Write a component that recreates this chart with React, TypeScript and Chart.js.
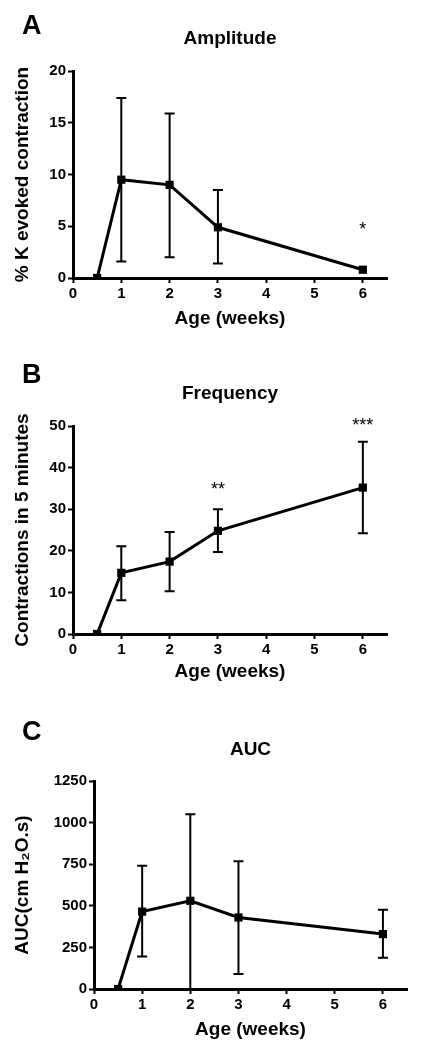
import React, { useEffect, useRef } from 'react';
import { Chart, registerables } from 'chart.js';

Chart.register(...registerables);

// ---------- data ----------
const ages = [0.5, 1, 2, 3, 6];
const xTickValues = [0, 1, 2, 3, 4, 5, 6];

const amplitudeMean = [0, 9.5, 9.0, 4.9, 0.8];
const amplitudeLow = [0, 1.6, 2.0, 1.4, 0.8];
const amplitudeHigh = [0, 17.4, 15.9, 8.5, 0.8];
const amplitudeStars = [{ x: 6, y: 4.6, text: '*' }];

const frequencyMean = [0, 14.7, 17.4, 24.8, 35.2];
const frequencyLow = [0, 8.1, 10.3, 19.7, 24.2];
const frequencyHigh = [0, 21.1, 24.5, 30.0, 46.2];
const frequencyStars = [
  { x: 3, y: 34.6, text: '**' },
  { x: 6, y: 50, text: '***' },
];

const aucMean = [0, 465, 530, 430, 330];
const aucLow = [0, 195, 0, 90, 188];
const aucHigh = [0, 740, 1050, 768, 477];
const aucStars: { x: number; y: number; text: string }[] = [];

const FONT = '"Liberation Sans", Arial, "DejaVu Sans", sans-serif';

type Panel = {
  letter: string;
  title: string;
  yTitle: string;
  yMax: number;
  yStep: number;
  mean: number[];
  low: number[];
  high: number[];
  stars: { x: number; y: number; text: string }[];
  // layout
  top: number;
  height: number;
  left: number;
  plotTop: number;
  plotBottom: number;
  plotRight: number;
  titleY: number;
  letterY: number;
  xTitlePad: number;
};

const panels: Panel[] = [
  {
    letter: 'A', title: 'Amplitude', yTitle: '% K evoked contraction', yMax: 20, yStep: 5,
    mean: amplitudeMean, low: amplitudeLow, high: amplitudeHigh, stars: amplitudeStars,
    top: 0, height: 340, left: 73, plotTop: 71, plotBottom: 278, plotRight: 387,
    titleY: 39, letterY: 27, xTitlePad: 10,
  },
  {
    letter: 'B', title: 'Frequency', yTitle: 'Contractions in 5 minutes', yMax: 50, yStep: 10,
    mean: frequencyMean, low: frequencyLow, high: frequencyHigh, stars: frequencyStars,
    top: 340, height: 350, left: 73, plotTop: 86, plotBottom: 294, plotRight: 387,
    titleY: 54, letterY: 36, xTitlePad: 7,
  },
  {
    letter: 'C', title: 'AUC', yTitle: 'AUC(cm H\u2082O.s)', yMax: 1250, yStep: 250,
    mean: aucMean, low: aucLow, high: aucHigh, stars: aucStars,
    top: 690, height: 360, left: 94, plotTop: 91, plotBottom: 299, plotRight: 407,
    titleY: 60, letterY: 43, xTitlePad: 9,
  },
];

const decorPlugin = {
  id: 'decor',
  beforeDatasetsDraw(chart: any, _args: any, opts: any) {
    const { ctx, scales } = chart;
    const x = scales.x, y = scales.y;
    ctx.save();
    ctx.strokeStyle = '#000';
    ctx.lineWidth = 2;
    ctx.lineCap = 'butt';
    opts.low.forEach((lo: number, i: number) => {
      const hi = opts.high[i];
      if (hi === lo) return;
      const px = x.getPixelForValue(opts.xs[i]);
      const pl = y.getPixelForValue(lo);
      const ph = y.getPixelForValue(hi);
      ctx.beginPath();
      ctx.moveTo(px, pl);
      ctx.lineTo(px, ph);
      ctx.moveTo(px - 5, pl);
      ctx.lineTo(px + 5, pl);
      ctx.moveTo(px - 5, ph);
      ctx.lineTo(px + 5, ph);
      ctx.stroke();
    });
    ctx.restore();
  },
  afterDraw(chart: any, _args: any, opts: any) {
    const { ctx, chartArea, scales } = chart;
    ctx.save();
    ctx.fillStyle = '#000';
    // panel letter
    ctx.font = `bold 27px ${FONT}`;
    ctx.textAlign = 'left';
    ctx.textBaseline = 'middle';
    ctx.fillText(opts.letter, 22, opts.letterY);
    // title
    ctx.font = `bold 19px ${FONT}`;
    ctx.textAlign = 'center';
    ctx.fillText(opts.title, (chartArea.left + chartArea.right) / 2, opts.titleY);
    // significance stars
    ctx.font = `18px ${FONT}`;
    opts.stars.forEach((s: any) => {
      ctx.fillText(s.text, scales.x.getPixelForValue(s.x), scales.y.getPixelForValue(s.y));
    });
    ctx.restore();
  },
};

function PanelChart({ p }: { p: Panel }) {
  const ref = useRef<HTMLCanvasElement>(null);
  useEffect(() => {
    if (!ref.current) return;
    const chart = new Chart(ref.current, {
      type: 'scatter',
      data: {
        datasets: [
          {
            data: ages.map((a, i) => ({ x: a, y: p.mean[i] })),
            showLine: true,
            borderColor: '#000',
            backgroundColor: '#000',
            borderWidth: 3,
            pointStyle: 'rect',
            pointRadius: 5.8,
            pointBorderWidth: 0,
            pointBackgroundColor: '#000',
            tension: 0,
          },
        ],
      },
      options: {
        responsive: false,
        animation: false,
        events: [],
        layout: {
          padding: { left: 0, top: p.plotTop, right: 421 - p.plotRight, bottom: 0 },
        },
        plugins: {
          legend: { display: false },
          tooltip: { enabled: false },
          title: { display: false },
          decor: {
            letter: p.letter,
            title: p.title,
            titleY: p.titleY,
            letterY: p.letterY,
            stars: p.stars,
            low: p.low,
            high: p.high,
            xs: ages,
          },
        } as any,
        scales: {
          x: {
            type: 'linear',
            min: 0,
            max: 6.5,
            afterFit: (s: any) => { s.height = p.height - p.plotBottom; },
            afterBuildTicks: (s: any) => { s.ticks = xTickValues.map((v) => ({ value: v })); },
            ticks: {
              color: '#000',
              font: { family: FONT, size: 15, weight: 'bold' },
              padding: 2,
              maxRotation: 0,
              callback: (v: any) => String(v),
            },
            grid: {
              drawOnChartArea: false,
              drawTicks: true,
              tickLength: 5,
              tickWidth: 2,
              tickColor: '#000',
              color: '#000',
            },
            border: { display: true, color: '#000', width: 3 },
            title: {
              display: true,
              text: 'Age (weeks)',
              color: '#000',
              font: { family: FONT, size: 19, weight: 'bold' },
              padding: { top: 0, bottom: p.xTitlePad },
            },
          },
          y: {
            type: 'linear',
            min: 0,
            max: p.yMax,
            afterFit: (s: any) => { s.width = p.left; },
            ticks: {
              stepSize: p.yStep,
              color: '#000',
              font: { family: FONT, size: 15, weight: 'bold' },
              padding: 2,
              callback: (v: any) => String(v),
            },
            grid: {
              drawOnChartArea: false,
              drawTicks: true,
              tickLength: 5,
              tickWidth: 2,
              tickColor: '#000',
              color: '#000',
            },
            border: { display: true, color: '#000', width: 3 },
            title: {
              display: true,
              text: p.yTitle,
              color: '#000',
              font: { family: FONT, size: 19, weight: 'bold' },
              padding: { top: 11, bottom: 0 },
            },
          },
        },
      },
      plugins: [decorPlugin as any],
    });
    return () => chart.destroy();
  }, [p]);
  return (
    <canvas
      ref={ref}
      width={421}
      height={p.height}
      style={{ position: 'absolute', left: 0, top: p.top, width: 421, height: p.height, display: 'block' }}
    />
  );
}

export default function App() {
  return (
    <div style={{ position: 'absolute', left: 0, top: 0, width: 421, height: 1050, background: '#fff' }}>
      {panels.map((p) => (
        <PanelChart key={p.letter} p={p} />
      ))}
    </div>
  );
}
